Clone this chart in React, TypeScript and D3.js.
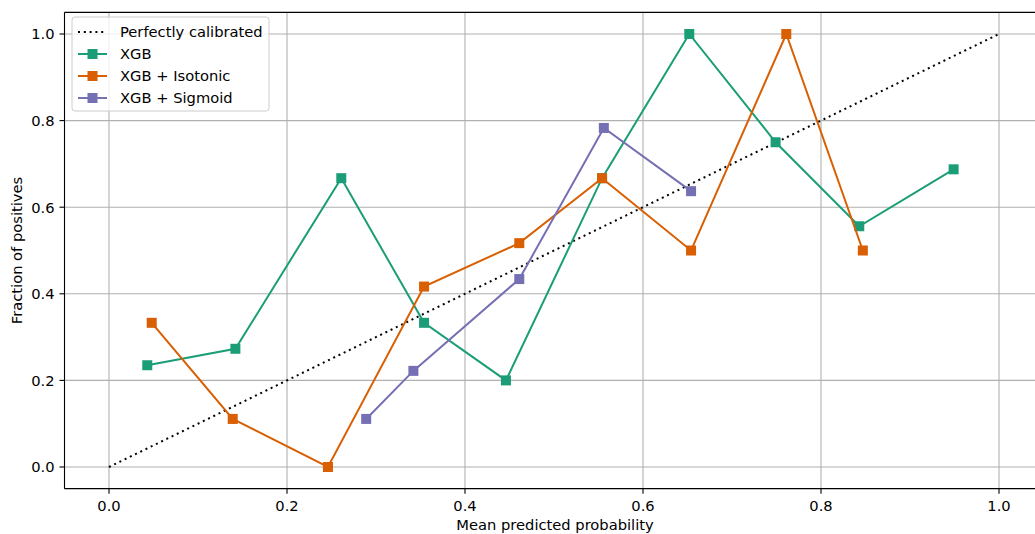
import React from "react";
import * as d3 from "d3";

const xgbX = [0.043, 0.142, 0.261, 0.354, 0.446, 0.554, 0.652, 0.749, 0.843, 0.949];
const xgbY = [0.235, 0.273, 0.667, 0.333, 0.2, 0.667, 1.0, 0.75, 0.556, 0.6875];
const isoX = [0.048, 0.139, 0.246, 0.354, 0.461, 0.554, 0.654, 0.761, 0.847];
const isoY = [0.333, 0.111, 0.0, 0.4167, 0.517, 0.667, 0.5, 1.0, 0.5];
const sigX = [0.289, 0.342, 0.461, 0.556, 0.654];
const sigY = [0.111, 0.222, 0.434, 0.783, 0.637];
const ticks = [0, 0.2, 0.4, 0.6, 0.8, 1.0];
const seriesNames = ["XGB", "XGB + Isotonic", "XGB + Sigmoid"];
const seriesColors = ["#1b9e77", "#d95f02", "#7570b3"];

const W = 1035;
const H = 534;
const FONT = "DejaVu Sans, sans-serif";
const FS = 14.7;

export default function App() {
  const x = d3.scaleLinear().domain([0, 1]).range([109, 999]);
  const y = d3.scaleLinear().domain([0, 1]).range([467, 34]);
  const left = x(-0.05);
  const right = x(1.05);
  const top = y(1.05);
  const bottom = y(-0.05);
  const line = d3
    .line<[number, number]>()
    .x((d) => x(d[0]))
    .y((d) => y(d[1]));
  const series = [
    xgbX.map((v, i) => [v, xgbY[i]] as [number, number]),
    isoX.map((v, i) => [v, isoY[i]] as [number, number]),
    sigX.map((v, i) => [v, sigY[i]] as [number, number]),
  ];
  const fmt = d3.format(".1f");
  const ms = 10;
  return (
    <svg
      width={W}
      height={H}
      style={{ position: "absolute", left: 0, top: 0, background: "#fff" }}
      fontFamily={FONT}
    >
      <defs>
        <clipPath id="plot">
          <rect x={left} y={top} width={right - left} height={bottom - top} />
        </clipPath>
      </defs>
      <rect width={W} height={H} fill="#fff" />
      {/* grid */}
      {ticks.map((t) => (
        <line key={"gx" + t} x1={x(t)} x2={x(t)} y1={top} y2={bottom} stroke="#b0b0b0" strokeWidth={1.1} />
      ))}
      {ticks.map((t) => (
        <line key={"gy" + t} x1={left} x2={right} y1={y(t)} y2={y(t)} stroke="#b0b0b0" strokeWidth={1.1} />
      ))}
      <g clipPath="url(#plot)">
        <path
          d={line([[0, 0], [1, 1]]) || ""}
          fill="none"
          stroke="#000"
          strokeWidth={2}
          strokeDasharray="2,3.8"
        />
        {series.map((s, i) => (
          <g key={i}>
            <path d={line(s) || ""} fill="none" stroke={seriesColors[i]} strokeWidth={2} />
            {s.map((p, j) => (
              <rect
                key={j}
                x={x(p[0]) - ms / 2}
                y={y(p[1]) - ms / 2}
                width={ms}
                height={ms}
                fill={seriesColors[i]}
              />
            ))}
          </g>
        ))}
      </g>
      {/* spines */}
      <line x1={left} x2={left} y1={top} y2={bottom} stroke="#000" strokeWidth={1.1} />
      <line x1={left} x2={right} y1={bottom} y2={bottom} stroke="#000" strokeWidth={1.1} />
      <line x1={left} x2={right} y1={top} y2={top} stroke="#000" strokeWidth={1.1} />
      <line x1={right} x2={right} y1={top} y2={bottom} stroke="#000" strokeWidth={1.1} />
      {/* ticks */}
      {ticks.map((t) => (
        <g key={"tx" + t}>
          <line x1={x(t)} x2={x(t)} y1={bottom} y2={bottom + 5} stroke="#000" strokeWidth={1.1} />
          <text x={x(t)} y={bottom + 22} fontSize={FS} textAnchor="middle" fill="#000">
            {fmt(t)}
          </text>
        </g>
      ))}
      {ticks.map((t) => (
        <g key={"ty" + t}>
          <line x1={left - 5} x2={left} y1={y(t)} y2={y(t)} stroke="#000" strokeWidth={1.1} />
          <text x={left - 10} y={y(t) + 5.3} fontSize={FS} textAnchor="end" fill="#000">
            {fmt(t)}
          </text>
        </g>
      ))}
      <text x={555} y={530} fontSize={FS} textAnchor="middle" fill="#000">
        Mean predicted probability
      </text>
      <text
        transform={`translate(22, ${(top + bottom) / 2}) rotate(-90)`}
        fontSize={FS}
        textAnchor="middle"
        fill="#000"
      >
        Fraction of positives
      </text>
      {/* legend */}
      <rect x={72} y={17} width={197} height={94} rx={3} fill="#fff" fillOpacity={0.8} stroke="#ccc" strokeWidth={1} />
      <line x1={78} x2={107} y1={32} y2={32} stroke="#000" strokeWidth={2} strokeDasharray="2,3.8" />
      <text x={120} y={37.3} fontSize={FS} fill="#000">Perfectly calibrated</text>
      {seriesNames.map((n, i) => {
        const ly = 54 + i * 22;
        return (
          <g key={n}>
            <line x1={78} x2={107} y1={ly} y2={ly} stroke={seriesColors[i]} strokeWidth={2} />
            <rect x={92.5 - ms / 2} y={ly - ms / 2} width={ms} height={ms} fill={seriesColors[i]} />
            <text x={120} y={ly + 5.3} fontSize={FS} fill="#000">{n}</text>
          </g>
        );
      })}
    </svg>
  );
}
